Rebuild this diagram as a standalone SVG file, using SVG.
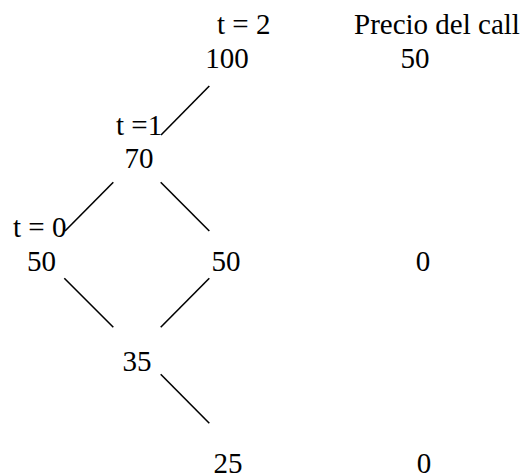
<svg xmlns="http://www.w3.org/2000/svg" width="521" height="476" viewBox="0 0 521 476">
<style>
text { font-family: "Liberation Serif", "Times New Roman", serif; font-size: 29px; fill: #000; }
.m { text-anchor: middle; }
.edge { stroke: #000; stroke-width: 1.6; fill: none; }
</style>
<rect width="521" height="476" fill="#fff"/>
<g id="headers">
<text x="217" y="34">t = 2</text>
<text x="354" y="34">Precio del call</text>
</g>
<g id="node-100"><text class="m" x="227" y="68">100</text></g>
<g id="call-50"><text class="m" x="415" y="68">50</text></g>
<g id="label-t1"><text x="116" y="135">t =1</text></g>
<g id="node-70"><text class="m" x="139" y="168">70</text></g>
<g id="label-t0"><text x="13" y="237">t = 0</text></g>
<g id="node-50-left"><text class="m" x="41.5" y="271">50</text></g>
<g id="node-50-right"><text class="m" x="226" y="271">50</text></g>
<g id="call-0-mid"><text class="m" x="423" y="271">0</text></g>
<g id="node-35"><text class="m" x="137" y="371">35</text></g>
<g id="node-25"><text class="m" x="228" y="473">25</text></g>
<g id="call-0-bottom"><text class="m" x="424" y="473">0</text></g>
<g id="connectors">
<line class="edge" x1="209.3" y1="86" x2="161" y2="135"/>
<line class="edge" x1="113.3" y1="182.3" x2="65" y2="231"/>
<line class="edge" x1="160.7" y1="182.3" x2="209.3" y2="231"/>
<line class="edge" x1="64.3" y1="278.3" x2="113.3" y2="327.3"/>
<line class="edge" x1="209.3" y1="278.3" x2="160.7" y2="327.3"/>
<line class="edge" x1="160.7" y1="374.3" x2="209.3" y2="423.3"/>
</g>
</svg>
